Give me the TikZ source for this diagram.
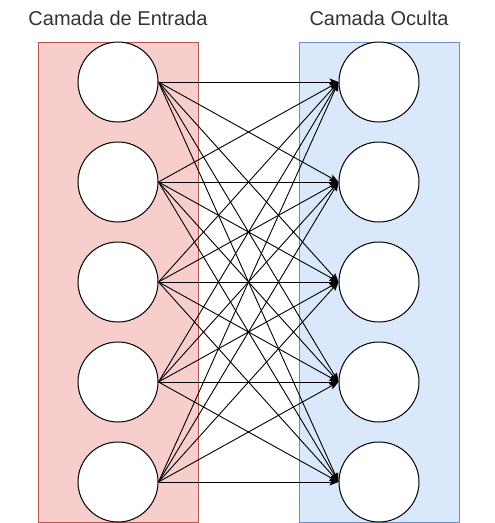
\documentclass[tikz,border=0pt]{standalone}
\usepackage{fontspec}
\setmainfont{Liberation Sans}
\usetikzlibrary{arrows.meta}
\definecolor{inFill}{HTML}{F8CECC}
\definecolor{inLine}{HTML}{B85450}
\definecolor{hidFill}{HTML}{DAE8FC}
\definecolor{hidLine}{HTML}{6C8EBF}
\definecolor{titleGray}{HTML}{333333}
\tikzset{
  neuron/.style={circle, draw=black, fill=white, line width=1pt, minimum size=80pt, inner sep=0pt},
  title/.style={text=titleGray, font=\fontsize{20}{24}\selectfont},
  link/.style={line width=0.9pt, -{Stealth[length=9pt, width=7pt, inset=2pt]}}
}
\begin{document}
\begin{tikzpicture}[x=1pt, y=-1pt]
      \useasboundingbox (0,0) rectangle (495,523);
      % layer boxes
      \draw[fill=inFill, draw=inLine, line width=1pt] (38,42) rectangle (198,522);
      \draw[fill=hidFill, draw=hidLine, line width=1pt] (299,42) rectangle (459,522);
      \node[title] (tin) at (118,18) {Camada de Entrada};
      \node[title] (thid) at (379,18) {Camada Oculta};
      % neurons
      \foreach \i in {1,...,5} {
        \node[neuron] (in\i) at (118,{-18+100*\i}) {};
        \node[neuron] (hid\i) at (379,{-18+100*\i}) {};
      }
      % connections
      \foreach \i in {1,...,5} {
        \foreach \j in {1,...,5} {
          \draw[link] (in\i.east) -- (hid\j.west);
        }
      }
    \end{tikzpicture}
\end{document}
